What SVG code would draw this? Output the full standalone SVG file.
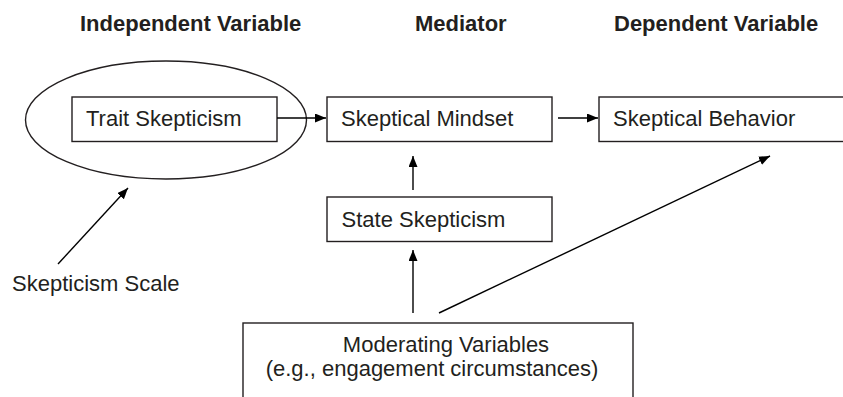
<svg xmlns="http://www.w3.org/2000/svg" width="843" height="397" viewBox="0 0 843 397">
<style>
text{font-family:"Liberation Sans",Arial,sans-serif;font-size:22px;fill:#231f20}
.h{font-weight:bold}
.box{fill:#fff;stroke:#231f20;stroke-width:1.4}
.c{stroke:#000;stroke-width:1.4;fill:none}
</style>
<defs>
<marker id="ah" markerUnits="userSpaceOnUse" markerWidth="12" markerHeight="10" refX="11" refY="4.5" orient="auto">
<path d="M0,0 L11,4.5 L0,9 z" fill="#000"/>
</marker>
</defs>
<rect width="843" height="397" fill="#fff"/>
<g id="headings">
<text class="h" x="80" y="30.5">Independent Variable</text>
<text class="h" x="415" y="30.5">Mediator</text>
<text class="h" x="614" y="30.5">Dependent Variable</text>
</g>
<g id="scale-ellipse">
<ellipse cx="166" cy="120" rx="140.5" ry="59" fill="none" stroke="#231f20" stroke-width="1.4"/>
</g>
<g id="trait">
<rect class="box" x="72" y="97" width="205" height="44.5"/>
<text x="86" y="125.5">Trait Skepticism</text>
</g>
<g id="mindset">
<rect class="box" x="327" y="97" width="225" height="44.5"/>
<text x="341" y="125.5">Skeptical Mindset</text>
</g>
<g id="behavior">
<rect class="box" x="599" y="97" width="250" height="44.5"/>
<text x="613" y="125.5">Skeptical Behavior</text>
</g>
<g id="state">
<rect class="box" x="327" y="197" width="225" height="44.5"/>
<text x="341.5" y="227">State Skepticism</text>
</g>
<g id="moderating">
<rect class="box" x="243" y="323" width="390" height="90"/>
<text x="446" y="351.5" text-anchor="middle">Moderating Variables</text>
<text x="432" y="375.5" text-anchor="middle">(e.g., engagement circumstances)</text>
</g>
<g id="skepticism-scale">
<text x="12" y="291">Skepticism Scale</text>
</g>
<g id="connectors">
<line class="c" x1="277" y1="118" x2="326" y2="118" marker-end="url(#ah)"/>
<line class="c" x1="558" y1="118" x2="598" y2="118" marker-end="url(#ah)"/>
<line class="c" x1="413" y1="190" x2="413" y2="156" marker-end="url(#ah)"/>
<line class="c" x1="413" y1="313" x2="413" y2="250" marker-end="url(#ah)"/>
<line class="c" x1="439" y1="313" x2="770" y2="156" marker-end="url(#ah)"/>
<line class="c" x1="58" y1="264" x2="128" y2="188" marker-end="url(#ah)"/>
</g>
</svg>
